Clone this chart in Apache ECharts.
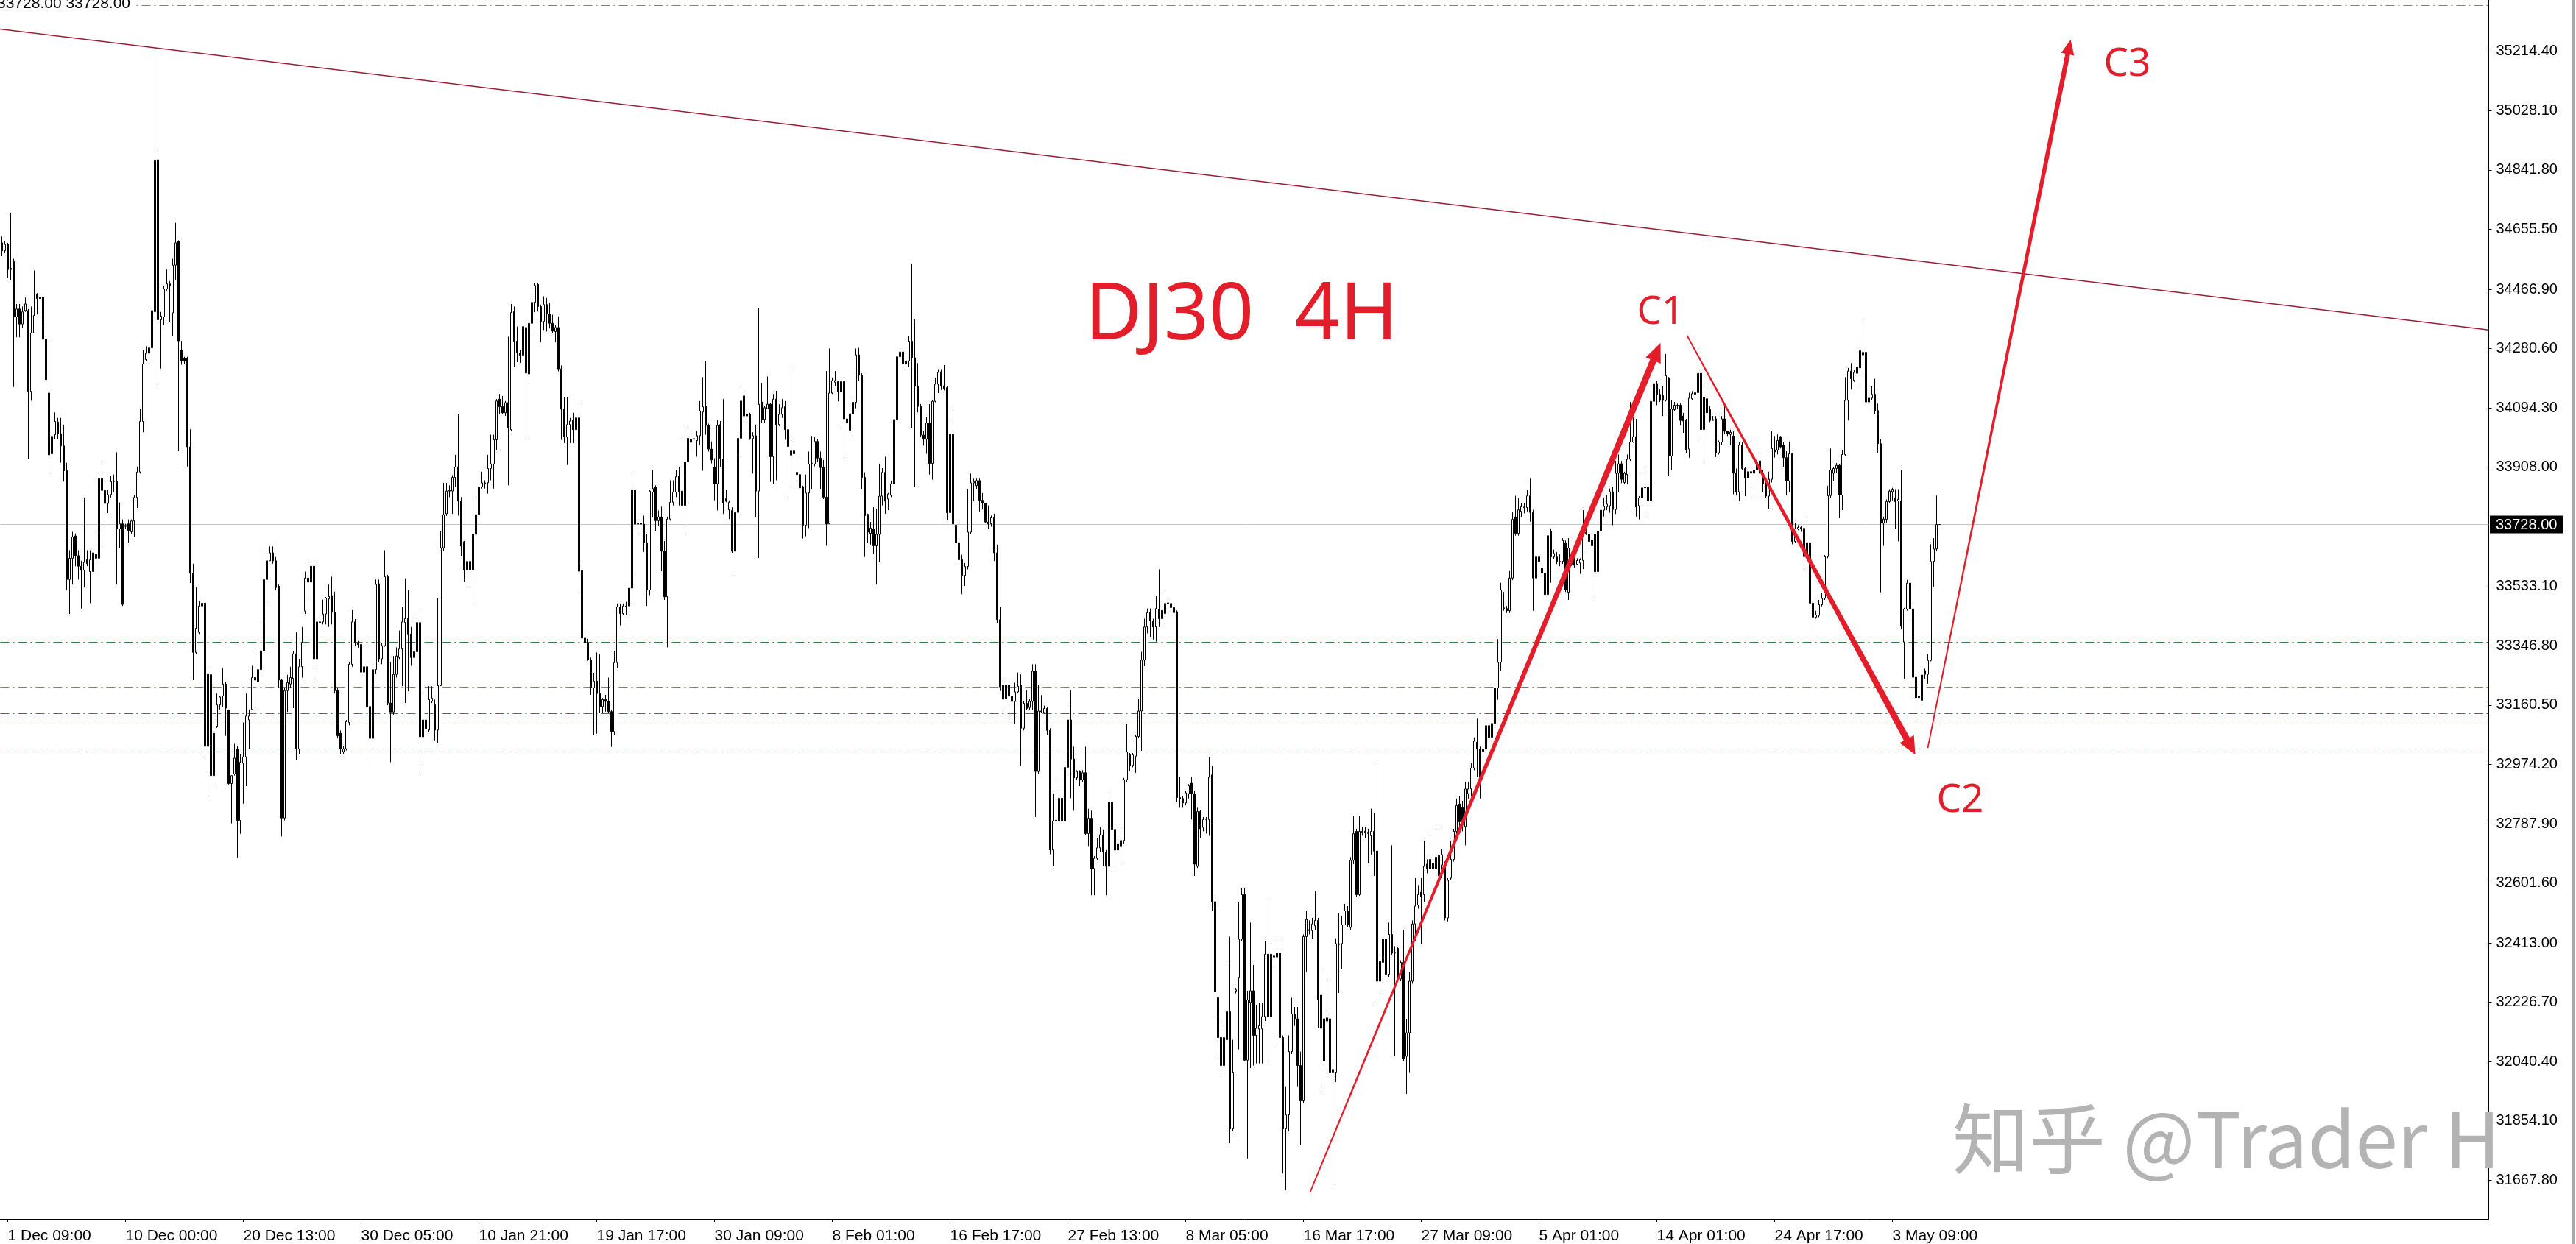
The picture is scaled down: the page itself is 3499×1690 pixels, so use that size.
<!DOCTYPE html>
<html>
<head>
<meta charset="utf-8">
<script src="https://cdn.jsdelivr.net/npm/echarts@6/dist/echarts.min.js"></script>
<style>
  html, body { margin: 0; padding: 0; background: #ffffff; }
  #chart { width: 3499px; height: 1690px; }
</style>
</head>
<body>
<div id="chart"></div>
<script>
// ---------------- DATA ----------------
// X-axis date labels (every 40th 4H bar, starting at bar 2)
const xTickLabels = ['1 Dec 09:00', '10 Dec 00:00', '20 Dec 13:00', '30 Dec 05:00', '10 Jan 21:00',
  '19 Jan 17:00', '30 Jan 09:00', '8 Feb 01:00', '16 Feb 17:00', '27 Feb 13:00', '8 Mar 05:00',
  '16 Mar 17:00', '27 Mar 09:00', '5 Apr 01:00', '14 Apr 01:00', '24 Apr 17:00', '3 May 09:00'];
const xTickFirstBar = 2;
const xTickEvery = 40;
const totalSlots = 845;          // bars + empty right-shift space

// Y-axis price labels (MT4 style)
const yTickValues = [35214.40, 35028.10, 34841.80, 34655.50, 34466.90, 34280.60, 34094.30, 33908.00,
  33533.10, 33346.80, 33160.50, 32974.20, 32787.90, 32601.60, 32413.00, 32226.70, 32040.40, 31854.10, 31667.80];
const yMin = 31546, yMax = 35376;
const currentPrice = 33728.00;
const headerQuote = '33728.00 33728.00 33728.00 33728.00';

// Candles [open, close, low, high]
const candlesDec = [
[34613,34588,34571,34633],[34588,34608,34580,34618],[34608,34529,34504,34613],[34529,34533,34496,34708],
[34554,34380,34160,34563],[34380,34405,34316,34421],[34405,34358,34316,34421],[34358,34396,34346,34413],
[34400,34421,34396,34441],[34400,34146,33933,34405],[34146,34330,34117,34413],[34330,34385,34330,34526],
[34451,34438,34388,34455],[34441,34438,34413,34446],[34443,34310,34293,34446],[34310,34183,34180,34355],
[34141,33947,33938,34313],[33950,34005,33880,34022],[34010,34052,33997,34080],[34050,34013,33997,34063],
[34013,33975,33922,34063],[33975,33897,33863,34042],[33897,33555,33522,33922],[33555,33622,33447,33647],
[33622,33689,33539,33705],[33692,33630,33597,33700],[33630,33597,33555,33647],[33597,33584,33464,33614],
[33584,33609,33530,33813],[33617,33605,33597,33647],[33580,33617,33481,33647],[33580,33639,33572,33647],
[33622,33634,33580,33705],[33622,33872,33605,33880],[33872,33835,33730,33930],[33835,33794,33664,33888],
[33794,33822,33764,33838],[33822,33863,33813,33880],[33863,33863,33830,33885],[33863,33714,33539,33955],
[33714,33730,33655,33797],[33730,33477,33472,33744],[33722,33725,33714,33730],[33730,33709,33672,33744],
[33705,33739,33697,33744],[33739,33813,33689,33822],[33813,33893,33780,33910],[33893,34052,33888,34092],
[34052,34233,34018,34276],[34246,34266,34243,34288],[34266,34283,34243,34321],[34283,34400,34258,34413],
[34396,34871,34383,35220],[34874,34371,34160,34896],[34371,34383,34218,34396],[34380,34468,34355,34479],
[34468,34484,34463,34529],[34484,34479,34363,34493],[34393,34543,34321,34563],[34543,34613,34496,34676],
[34618,34305,33958,34621],[34275,34243,34230,34305],[34250,34243,34233,34255],[34250,33972,33910,34255],
[33972,33575,33544,34027],[33575,33326,33239,33605],[33326,33402,33322,33530],[33389,33472,33384,33489],
[33472,33481,33464,33492],[33481,33031,33006,33489],[33031,33259,33023,33281],[33256,32939,32864,33259],
[32939,33072,32914,33214],[33094,33161,33089,33197],[33161,33186,33147,33189],[33189,33227,33156,33277],
[33227,33151,33064,33234],[33144,32914,32911,33147],[32914,32939,32789,32939],[32944,32994,32939,33039],
[33023,32798,32681,33031],[32798,32981,32756,33006],[32978,32998,32851,33106],[32998,33126,32906,33197],
[33114,33126,33023,33147],[33147,33247,33147,33284],[33247,33239,33231,33256],[33234,33272,33151,33331],
[33272,33331,33264,33422],[33331,33555,33322,33647],[33555,33614,33477,33655],[33614,33639,33614,33659],
[33639,33614,33605,33659],[33614,33530,33522,33626],[33534,33239,33214,33539],[33239,32806,32748,33242],
[32806,33206,32798,33214],[33206,33231,33139,33256],[33227,33247,33214,33281],[33244,33322,33151,33331],
[33322,33023,32989,33389],[33023,33281,33006,33306],[33281,33356,33247,33406],[33456,33560,33447,33580],
[33560,33547,33505,33564],[33547,33597,33502,33609],[33597,33306,33281,33605],[33306,33422,33239,33431],
[33422,33420,33414,33431],[33422,33447,33414,33492],[33447,33497,33414,33500],[33494,33502,33406,33539],
[33505,33452,33414,33564],[33452,33206,33197,33517],[33206,33064,33056,33214],[33072,33023,33006,33081],
[33014,33023,33006,33031],[33023,33109,33018,33114],[33106,33289,33097,33297],[33289,33422,33281,33459],
[33422,33356,33347,33431],[33356,33351,33341,33362],[33351,33264,33264,33356],[33264,33281,33256,33289],
[33281,33156,33064,33289],[33156,33056,32989,33164],[33056,33272,33023,33297],[33272,33540,33260,33555],
[33542,33306,33297,33555],[33306,33347,33289,33356],[33347,33564,33344,33647],[33564,33167,33160,33570]
];
const candlesJan = [
[33167,33139,32981,33297],[33139,33257,33130,33315],[33257,33315,33247,33342],[33310,33337,33305,33395],
[33337,33422,33220,33469],[33420,33432,33167,33559],[33432,33384,33204,33522],[33384,33310,33284,33406],
[33310,33328,33289,33437],[33328,33420,33273,33437],[33420,33061,32987,33464],[33061,33114,32939,33209],
[33114,33087,33024,33215],[33082,33178,33077,33220],[33172,33183,33167,33220],[33162,33082,33050,33178],
[33082,33222,33040,33496],[33222,33655,33220,33708],[33655,33759,33644,33859],[33762,33833,33755,33859],
[33833,33835,33814,33851],[33833,33876,33761,33883],[33876,33909,33846,33947],[33909,33801,33756,34076],
[33801,33660,33628,33814],[33674,33586,33549,33676],[33586,33612,33565,33634],[33612,33586,33533,33634],
[33586,33697,33485,33708],[33697,33759,33544,33809],[33759,33846,33740,33888],[33846,33859,33841,33894],
[33859,33857,33841,33867],[33859,33904,33825,33947],[33904,33918,33867,34010],[33918,33994,33841,34010],
[33994,34116,33963,34122],[34122,34098,34074,34138],[34098,34079,34074,34132],[34079,34111,34069,34116],
[34111,34032,33851,34318],[34026,34394,34021,34421],[34397,34304,34222,34413],[34304,34267,34238,34350],
[34267,34260,34236,34276],[34260,34350,34233,34355],[34347,34204,34005,34350],[34201,34360,34173,34366],
[34360,34426,34334,34435],[34426,34479,34395,34488],[34482,34413,34397,34488],[34413,34366,34302,34419],
[34366,34419,34339,34445],[34419,34389,34334,34440],[34389,34360,34344,34424],[34360,34336,34329,34387],
[34334,34347,34302,34355],[34347,34217,34209,34382],[34217,34090,33994,34228],[34090,34003,33984,34127],
[34003,34042,33915,34127],[34042,34053,33984,34063],[34055,34026,33984,34079],[34026,34063,33989,34124],
[34063,33581,33522,34100],[33583,33371,33366,33607],[33371,33356,33347,33384],[33356,33303,33300,33369],
[33303,33215,33193,33310],[33215,33236,33066,33262],[33236,33197,33071,33326],[33197,33156,33135,33321],
[33156,33178,33135,33183],[33178,33172,33140,33193],[33172,33140,33135,33247],[33140,33077,33029,33146],
[33077,33294,33066,33331],[33294,33469,33278,33480],[33469,33448,33411,33480],[33448,33472,33443,33480],
[33472,33470,33445,33485],[33472,33528,33400,33533],[33528,33837,33485,33880],[33837,33729,33570,33841],
[33729,33731,33697,33740],[33731,33729,33719,33756],[33729,33671,33642,33756],[33671,33522,33472,33697],
[33522,33833,33506,33837],[33830,33841,33750,33899],[33846,33740,33708,33851],[33740,33752,33724,33772],
[33752,33644,33581,33784],[33644,33501,33491,33676],[33501,33745,33342,33752],[33745,33798,33740,33867],
[33798,33830,33788,33867],[33830,33878,33814,33899],[33880,33830,33788,33909],[33833,33788,33729,33994],
[33788,33925,33697,33994],[33925,33999,33878,34042],[33986,33996,33957,34005],[33996,33998,33968,34016],
[33992,34007,33941,34021],[34007,34085,33978,34116],[34081,34098,33897,34191],[34100,34039,34010,34241],
[34039,33965,33957,34045],[33965,33931,33920,33989],[33909,33856,33804,33936],[33856,34039,33772,34056],
[34042,33936,33909,34053],[33933,33795,33761,34122],[33809,33801,33798,33837],[33774,33798,33745,33804],
[33772,33644,33639,33782],[33644,33766,33579,33782],[33766,33999,33719,34016],[33999,34116,33947,34159],
[34132,34069,34058,34138],[34069,34074,34066,34098],[34074,33999,33994,34079],[33998,34007,33888,34018],
[34007,33833,33750,34042],[33833,34106,33623,34408],[34113,34058,34047,34173],[34058,34095,34047,34100],
[34092,34106,34090,34193],[34106,33941,33862,34111],[33941,34122,33856,34138],[34122,34042,33867,34148],
[34042,34074,34037,34106],[34074,34095,34063,34122],[34098,34026,33994,34116],[34026,33973,33820,34032]
];
const candlesFeb = [
[33946,33959,33859,34225],[33959,33950,33850,33993],[33892,33885,33866,33937],[33885,33843,33840,33892],
[33847,33726,33684,33850],[33726,33827,33691,33885],[33827,33918,33717,33957],[33918,33920,33840,34006],
[33918,33989,33911,34002],[33989,33937,33924,33996],[33937,33907,33840,33957],[33907,33814,33808,33931],
[33814,33730,33661,34210],[33730,34141,33730,34281],[34141,34180,34138,34190],[34175,34180,34164,34210],
[34177,34145,34115,34180],[34145,34177,34032,34184],[34177,34060,33937,34184],[34047,34060,33918,34099],
[34024,34076,33996,34093],[34076,34112,34041,34119],[34112,34261,34093,34281],[34261,34197,34180,34283],
[34197,33876,33840,34203],[33876,33756,33626,33892],[33760,33704,33671,33762],[33700,33717,33665,33736],
[33713,33661,33635,33782],[33661,33697,33539,33778],[33697,33817,33609,33918],[33817,33892,33788,33905],
[33892,33801,33762,33941],[33808,33824,33773,33827],[33820,33856,33814,33866],[33856,34058,33853,34060],
[34058,34255,34054,34261],[34255,34270,34252,34283],[34270,34232,34222,34283],[34232,34242,34222,34257],
[34242,34304,34222,34320],[34304,34252,34032,34547],[34252,34162,33847,34372],[34162,34099,34080,34235],
[34099,34009,34002,34106],[34009,33996,33976,34022],[33996,34047,33950,34067],[34047,33920,33885,34106],
[33920,34115,33869,34119],[34115,34169,34112,34190],[34169,34206,34141,34216],[34208,34164,34151,34216],
[34164,34154,34149,34229],[34158,33765,33743,34164],[33765,34011,33752,34047],[34011,33730,33726,34082],
[33726,33671,33658,33736],[33671,33617,33613,33678],[33617,33568,33509,33633],[33568,33596,33535,33607],
[33596,33704,33587,33840],[33704,33859,33697,33888],[33859,33863,33801,33872],[33850,33866,33840,33872],
[33866,33804,33769,33872],[33804,33795,33775,33827],[33795,33736,33734,33795],[33736,33730,33713,33788],
[33730,33749,33721,33756],[33749,33639,33613,33762],[33639,33429,33419,33665],[33429,33218,33205,33470],
[33224,33179,33140,33237],[33181,33224,33179,33231],[33224,33189,33172,33231],[33189,33172,33114,33215],
[33172,33202,33101,33231],[33202,33220,33198,33263],[33224,33088,32971,33257],[33088,33166,33081,33172],
[33166,33150,33146,33207],[33153,33172,33146,33179],[33172,33267,33146,33289],[33267,32952,32809,33289],
[32952,33142,32945,33224],[33142,33140,33137,33192],[33137,33150,33133,33159],[33150,33081,33068,33153],
[33081,32705,32692,33088],[32705,32796,32654,32883],[32796,32799,32790,32919],[32796,32868,32790,32881],
[32868,32796,32790,32875],[32796,32965,32790,32978],[32965,33114,32945,33172],[33114,32991,32868,33207],
[32991,32932,32829,33030],[32932,32952,32926,32956],[32952,32926,32906,32956],[32926,32948,32919,32956],
[32948,32757,32751,33030],[32757,32805,32718,32835],[32805,32647,32563,32829],[32647,32679,32563,32686],
[32679,32712,32673,32744],[32712,32753,32699,32777],[32753,32699,32654,32770],[32699,32654,32563,32705],
[32654,32855,32563,32861],[32855,32770,32764,32887],[32770,32705,32699,32777],[32705,32725,32641,32731],
[32718,32735,32673,32777],[32735,32926,32725,32932],[32926,33013,32919,33101],[33004,32971,32952,33010],
[32971,33004,32965,33010],[33000,33062,32948,33068],[33062,33142,33056,33179],[33142,33302,33017,33328],
[33302,33406,33283,33432],[33406,33451,33386,33464],[33451,33425,33373,33464],[33425,33406,33367,33432],
[33406,33464,33360,33503],[33461,33432,33406,33587],[33432,33458,33399,33477],[33448,33480,33445,33509],
[33480,33482,33474,33503],[33480,33467,33451,33490],[33451,33467,33451,33487],[33454,32870,32857,33458]
];
const candlesMar = [
[32870,32867,32838,32934],[32867,32853,32838,32875],[32853,32885,32845,32890],[32882,32907,32867,32912],
[32915,32882,32801,32934],[32882,32661,32624,32890],[32654,32826,32649,32838],[32826,32772,32742,32831],
[32776,32801,32764,32809],[32801,32803,32757,32809],[32801,32934,32750,32997],[32941,32543,32514,32971],
[32543,32260,32182,32558],[32241,32116,32057,32249],[32116,32028,31991,32160],[32028,32116,32025,32153],
[32109,32197,32101,32344],[32197,31829,31784,32433],[31829,32005,31821,32109],[32262,32266,32255,32272],
[32305,32425,32079,32543],[32425,32565,32418,32587],[32565,32045,32042,32587],[32045,32234,31736,32263],
[32226,32263,32020,32477],[32263,32123,32028,32344],[32123,32145,32035,32219],[32143,32153,32035,32226],
[32143,32182,32035,32226],[32182,32378,32168,32418],[32378,32182,32138,32546],[32182,32378,32035,32408],
[32372,32369,32330,32381],[32369,32381,32086,32433],[32381,32116,32109,32418],[32116,31829,31689,32123],
[31829,31873,31637,31961],[31873,32072,31821,32123],[32072,32190,32064,32241],[32190,32175,32153,32212],
[32175,32028,31961,32212],[32028,31917,31777,32072],[31917,32433,31910,32440],[32433,32487,32322,32514],
[32455,32452,32440,32484],[32452,32473,32425,32492],[32467,32484,32455,32576],[32484,32234,32145,32492],
[32249,32145,31969,32340],[32175,32042,31939,32178],[32168,32178,32013,32300],[32175,32005,31998,32197],
[32005,32016,31652,32028],[32005,32411,31976,32428],[32408,32411,32256,32506],[32411,32470,32330,32499],
[32470,32514,32470,32536],[32514,32470,32462,32529],[32462,32673,32455,32683],[32673,32757,32661,32812],
[32764,32565,32558,32772],[32565,32764,32561,32812],[32761,32764,32750,32779],[32764,32761,32742,32779],
[32761,32757,32664,32772],[32750,32764,32691,32835],[32764,32702,32624,32823],[32702,32293,32226,32988],
[32293,32355,32263,32367],[32352,32425,32344,32433],[32425,32315,32300,32440],[32315,32440,32307,32477],
[32440,32381,32374,32720],[32381,32384,32057,32403],[32396,32300,32293,32399],[32300,32352,32293,32359],
[32352,32050,32042,32455],[32057,32131,31939,32175],[32131,32293,32005,32322],[32293,32473,32285,32484],
[32473,32529,32418,32617],[32532,32565,32521,32595],[32573,32558,32411,32617],[32565,32654,32543,32735],
[32661,32646,32632,32676],[32646,32676,32610,32764],[32664,32646,32639,32691],[32646,32683,32632,32779],
[32688,32624,32617,32779],[32658,32691,32617,32708],[32661,32492,32484,32669],[32492,32610,32481,32617],
[32617,32676,32610,32735],[32676,32764,32669,32772],[32764,32845,32757,32867],[32850,32794,32764,32875],
[32838,32786,32764,32860],[32779,32897,32720,32919],[32882,32897,32867,32919],[32897,32963,32875,32978],
[32963,33047,32956,33059],[33044,33022,32934,33118],[33022,32934,32867,33030],[33015,33022,33003,33037],
[33022,33096,33015,33103],[33096,33059,33044,33118],[33059,33103,33044,33118],[33103,33214,33096,33229],
[33214,33295,33177,33368],[33295,33523,33268,33545],[33466,33464,33457,33516],[33464,33457,33450,33472],
[33457,33560,33450,33582],[33560,33744,33553,33766],[33752,33700,33693,33818],[33700,33774,33693,33811],
[33769,33784,33752,33796],[33781,33783,33763,33796],[33781,33818,33769,33837],[33818,33766,33737,33872],
[33766,33560,33457,33774],[33560,33626,33553,33634],[33626,33612,33590,33634],[33590,33575,33567,33612],
[33575,33508,33501,33582],[33508,33693,33504,33700],[33707,33626,33545,33715],[33626,33637,33619,33649],
[33626,33612,33604,33641],[33612,33610,33597,33634],[33612,33678,33604,33685],[33671,33523,33516,33678]
];
const candlesApr = [
[33515,33654,33491,33685],[33603,33617,33598,33632],[33622,33600,33593,33627],[33603,33615,33600,33622],
[33607,33617,33573,33622],[33615,33700,33588,33773],[33700,33703,33695,33729],[33697,33675,33666,33700],
[33661,33680,33656,33685],[33697,33580,33505,33700],[33580,33707,33573,33734],[33707,33773,33703,33783],
[33773,33785,33753,33812],[33783,33792,33773,33821],[33787,33831,33765,33841],[33831,33775,33726,33846],
[33775,33889,33761,33928],[33889,33919,33831,33948],[33919,33870,33858,33928],[33860,33889,33855,33894],
[33885,33933,33855,33948],[33933,33987,33928,34113],[33987,34004,33985,34064],[34004,33783,33753,34060],
[33787,33812,33744,33817],[33812,33843,33802,33880],[33843,33845,33812,33880],[33846,33802,33753,33901],
[33802,34115,33792,34123],[34115,34171,34108,34210],[34171,34137,34103,34180],[34137,34118,34113,34152],
[34133,34118,34069,34162],[34118,34196,34115,34264],[34189,33943,33880,34191],[33943,34091,33899,34118],
[34089,34103,34084,34113],[34103,34101,34092,34108],[34103,34055,34040,34108],[34069,34053,34016,34079],
[34055,33962,33953,34060],[33965,34125,33938,34142],[34123,34139,34118,34147],[34137,34142,34133,34152],
[34142,34203,34133,34278],[34203,34026,34006,34215],[34026,34128,33923,34157],[34123,34079,34074,34128],
[34089,34055,34050,34099],[34055,34058,34055,34069],[34060,33953,33940,34069],[33953,33987,33948,33992],
[33987,34060,33977,34069],[34060,34021,34011,34099],[34021,34014,34006,34021],[34011,34018,33977,34026],
[34006,33889,33823,34021],[33889,33831,33821,33904],[33831,33977,33802,33987],[33977,33904,33899,33987],
[33904,33875,33817,33909],[33875,33894,33860,33909],[33894,33889,33817,33923],[33889,33899,33850,33989],
[33899,33923,33812,33992],[33928,33889,33812,33962],[33889,33855,33831,33899],[33855,33817,33812,33865],
[33817,33870,33778,33894],[33870,33967,33860,34021],[33962,33956,33938,34006],[33962,33992,33948,34011],
[34004,33972,33967,34006],[33977,33938,33909,33987],[33938,33865,33821,33958],[33865,33950,33831,33989],
[33950,33675,33666,33953],[33675,33714,33671,33734],[33714,33719,33710,33726],[33719,33714,33705,33722],
[33716,33627,33588,33726],[33627,33671,33583,33758],[33671,33481,33457,33680],[33481,33437,33345,33486],
[33437,33444,33432,33457],[33442,33476,33437,33491],[33476,33496,33471,33512],[33496,33627,33491,33632],
[33627,33819,33622,33850],[33819,33899,33812,33967],[33889,33904,33865,33909],[33904,33914,33889,33921],
[33914,33821,33748,33919],[33821,33948,33773,33962],[33948,34118,33943,34191],[34118,34210,34055,34220],
[34210,34186,34152,34235],[34181,34206,34176,34215],[34203,34222,34199,34232],[34220,34274,34171,34303],
[34261,34269,34206,34361],[34269,34113,34099,34274],[34113,34125,34096,34140],[34125,34137,34118,34162],
[34137,34086,34074,34186],[34086,33982,33953,34108],[33982,33732,33515,33996],[33732,33745,33661,33753],
[33744,33800,33734,33807],[33800,33833,33794,33839],[33831,33839,33804,33843],[33812,33800,33714,33839],
[33802,33807,33675,33839],[33802,33408,33398,33899],[33359,33462,33243,33466],[33462,33544,33457,33554],
[33544,33463,33432,33554],[33463,33248,33189,33476],[33248,33184,33000,33250],[33184,33189,33107,33252],
[33175,33255,33172,33277],[33269,33257,33243,33275],[33257,33301,33228,33321],[33301,33612,33298,33666],
[33612,33651,33532,33685],[33651,33728,33646,33819],[33728,33728,33728,33728]
];

// Horizontal price levels
const levelsOrange = [35360, 33365, 33217, 33102];
const levelsGreen = [33358, 33135, 33024];

// Annotations in [bar index, price]
const trendLine = [[0, 35284], [844, 34340]];
const arrowToC1 = [[444.25, 31630], [563.25, 34299]];
const arrowToC2 = [[572.25, 34322], [649.75, 33005]];
const arrowToC3 = [[654, 33026], [702.5, 35251]];
const noteTexts = ['DJ30  4H', 'C1', 'C2', 'C3'];
const notePoints = [[367.75, 34380], [563.25, 34393], [665, 32859], [721.75, 35172]];
const watermarkText = '知乎 @Trader H';

// ---------------- BUILD ----------------
const candles = [].concat(candlesDec, candlesJan, candlesFeb, candlesMar, candlesApr)
  .map(c => [c[0], c[1], Math.min(c[2], c[0], c[1]), Math.max(c[3], c[0], c[1])]);
const categories = [];
const tickText = {};
for (let i = 0; i < totalSlots; i++) categories.push(String(i));
xTickLabels.forEach((t, k) => { tickText[xTickFirstBar + k * xTickEvery] = t; });
const isTick = (i) => tickText[i] !== undefined;

const RED = '#e31e2a';
const AXIS_FONT = 'Liberation Sans';

const markData = [];
levelsOrange.forEach(v => markData.push({ yAxis: v, lineStyle: { color: '#d2691e', width: 1, type: [12, 5, 2, 5] } }));
levelsGreen.forEach(v => markData.push({ yAxis: v, lineStyle: { color: '#2e7d4f', width: 1, type: [12, 5, 2, 5] } }));
markData.push({ yAxis: currentPrice, lineStyle: { color: '#c4c4c4', width: 1, type: 'solid' } });

const chart = echarts.init(document.getElementById('chart'), null, { renderer: 'canvas' });
const option = {
  animation: false,
  backgroundColor: '#ffffff',
  grid: { left: 0.5, right: 118.5, top: 0, bottom: 33, containLabel: false },
  xAxis: {
    type: 'category',
    data: categories,
    boundaryGap: true,
    axisLine: { show: true, lineStyle: { color: '#000000', width: 1 } },
    axisTick: { show: true, alignWithLabel: true, interval: (i) => isTick(i), length: 4, lineStyle: { color: '#000000' } },
    axisLabel: {
      interval: (i) => isTick(i),
      formatter: (v, i) => tickText[i] || '',
      align: 'left', verticalAlign: 'top', margin: 13,
      fontSize: 21, fontFamily: AXIS_FONT, color: '#000000'
    },
    splitLine: { show: false }
  },
  yAxis: {
    type: 'value',
    position: 'right',
    min: yMin, max: yMax,
    axisLine: { show: true, lineStyle: { color: '#000000', width: 1 } },
    axisTick: { show: true, customValues: yTickValues, length: 4, lineStyle: { color: '#000000' } },
    axisLabel: {
      customValues: yTickValues,
      formatter: (v) => Number(v).toFixed(2),
      margin: 10, fontSize: 20, fontFamily: AXIS_FONT, color: '#000000'
    },
    splitLine: { show: false }
  },
  series: [{
    type: 'candlestick',
    data: candles,
    large: false,
    progressive: 0,
    barWidth: 2,
    silent: true,
    itemStyle: { color: '#ffffff', color0: '#000000', borderColor: '#000000', borderColor0: '#000000', borderWidth: 1 },
    emphasis: { disabled: true },
    markLine: {
      silent: true, symbol: ['none', 'none'], label: { show: false },
      emphasis: { disabled: true },
      data: markData, z: 1
    }
  }]
};
chart.setOption(option);

// ---------- annotations through the chart scales ----------
function toPx(b, p) {
  const i0 = Math.floor(b), f = b - i0;
  const a = chart.convertToPixel({ xAxisIndex: 0, yAxisIndex: 0 }, [i0, p]);
  const c = chart.convertToPixel({ xAxisIndex: 0, yAxisIndex: 0 }, [i0 + 1, p]);
  return [a[0] + (c[0] - a[0]) * f, a[1]];
}
function taperArrow(t, h, widths, fracs, headLen, headHalf) {
  const dx = h[0] - t[0], dy = h[1] - t[1], L = Math.hypot(dx, dy);
  const ux = dx / L, uy = dy / L, nx = -uy, ny = ux;
  const shaftLen = L - headLen;
  const left = [], right = [];
  fracs.forEach((f, k) => {
    const px = t[0] + ux * shaftLen * f, py = t[1] + uy * shaftLen * f, w = widths[k] / 2;
    left.push([px + nx * w, py + ny * w]);
    right.push([px - nx * w, py - ny * w]);
  });
  const bx = h[0] - ux * headLen, by = h[1] - uy * headLen;
  return left.concat([[bx + nx * headHalf, by + ny * headHalf], [h[0], h[1]], [bx - nx * headHalf, by - ny * headHalf]])
    .concat(right.reverse());
}

const els = [];
const gridRight = 3499 - 118.5;
// trend line extended to the plot edges
{
  const a = toPx(trendLine[0][0], trendLine[0][1]);
  const b = toPx(trendLine[1][0], trendLine[1][1]);
  const s = (b[1] - a[1]) / (b[0] - a[0]);
  els.push({ type: 'line', silent: true, z: 50,
    shape: { x1: 0, y1: a[1] - s * a[0], x2: gridRight, y2: a[1] + s * (gridRight - a[0]) },
    style: { stroke: '#9c1c34', lineWidth: 1.5 } });
}
[[arrowToC1, [1.8, 3, 9], [0, 0.25, 1], 26, 11],
 [arrowToC2, [1.8, 3, 9], [0, 0.22, 1], 24, 11],
 [arrowToC3, [1.8, 2.5, 6.5], [0, 0.3, 1], 20, 9]].forEach(([pts, w, f, hl, hh]) => {
  const t = toPx(pts[0][0], pts[0][1]), h = toPx(pts[1][0], pts[1][1]);
  els.push({ type: 'polygon', silent: true, z: 60, shape: { points: taperArrow(t, h, w, f, hl, hh) }, style: { fill: RED } });
});
noteTexts.forEach((txt, k) => {
  const p = toPx(notePoints[k][0], notePoints[k][1]);
  const big = k === 0;
  els.push({ type: 'text', silent: true, z: 60,
    style: { text: txt, x: p[0], y: p[1], fill: RED,
      font: (big ? 107 : 53) + 'px "Noto Sans"',
      textAlign: big ? 'left' : 'center', textVerticalAlign: 'middle' } });
});
// current price box on the axis
{
  const p = toPx(0, currentPrice);
  els.push({ type: 'rect', silent: true, z: 70, shape: { x: 3382, y: p[1] - 12, width: 99, height: 24 }, style: { fill: '#000000' } });
  els.push({ type: 'text', silent: true, z: 71,
    style: { text: currentPrice.toFixed(2), x: 3390, y: p[1] + 1, fill: '#ffffff', font: '20px "Liberation Sans"',
      textAlign: 'left', textVerticalAlign: 'middle' } });
}
// header quote text (cut at the left edge)
els.push({ type: 'text', silent: true, z: 70,
  style: { text: headerQuote, x: 182, y: 5.7, fill: '#000000', font: '21px "Liberation Sans"',
    textAlign: 'right', textVerticalAlign: 'middle', backgroundColor: '#ffffff', padding: [0, 5, 0, 0] } });
// scrollbar strip at right edge
els.push({ type: 'rect', silent: true, z: 70, shape: { x: 3493, y: 0, width: 4, height: 1690 }, style: { fill: '#a8a8a8' } });
// watermark
els.push({ type: 'text', silent: true, z: 100,
  style: { text: watermarkText, x: 2652, y: 1547, fill: '#b3b3b3', font: '104px "Noto Sans CJK SC"',
    textAlign: 'left', textVerticalAlign: 'middle' } });

chart.setOption({ graphic: { elements: els } });
</script>
</body>
</html>
